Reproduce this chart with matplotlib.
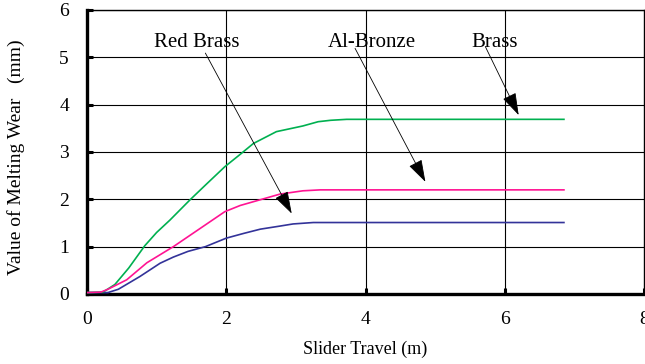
import matplotlib
matplotlib.use("Agg")
import matplotlib.pyplot as plt

plt.rcParams['font.family'] = ['Liberation Serif', 'DejaVu Serif']

# Wear curves (slider travel in m, melting wear in mm)
brass_x = [0, 0.23, 0.4, 0.6, 0.83, 1.0, 1.19, 1.48, 1.7, 1.98, 2.2, 2.39, 2.72, 3.1, 3.32, 3.5, 3.73, 6.85]
brass_y = [0.03, 0.04, 0.2, 0.55, 1.02, 1.3, 1.56, 1.99, 2.3, 2.69, 2.95, 3.18, 3.43, 3.55, 3.64, 3.67, 3.69, 3.69]

albronze_x = [0, 0.2, 0.3, 0.57, 0.86, 1.24, 1.6, 1.98, 2.2, 2.39, 2.77, 3.1, 3.35, 6.85]
albronze_y = [0.03, 0.04, 0.1, 0.3, 0.66, 1.0, 1.36, 1.74, 1.87, 1.95, 2.11, 2.18, 2.2, 2.2]

redbrass_x = [0, 0.3, 0.45, 0.76, 1.05, 1.24, 1.45, 1.7, 2.0, 2.25, 2.49, 2.75, 2.96, 3.25, 6.85]
redbrass_y = [0.03, 0.03, 0.1, 0.37, 0.65, 0.78, 0.9, 1.0, 1.18, 1.28, 1.37, 1.43, 1.48, 1.51, 1.51]

# Callout labels: text position and arrow tip
labels = ["Red Brass", "Al-Bronze", "Brass"]
label_x = [1.58, 4.09, 5.85]
label_y = [5.32, 5.32, 5.32]
start_x = [1.70, 3.85, 5.72]
start_y = [5.09, 5.19, 5.23]
tip_x = [2.94, 4.86, 6.20]
tip_y = [1.70, 2.37, 3.78]

xticks = [0, 2, 4, 6, 8]
yticks = [0, 1, 2, 3, 4, 5, 6]

fig = plt.figure(figsize=(6.45, 3.64), dpi=100)
ax = fig.add_axes([87 / 645, 70 / 364, 557 / 645, 284 / 364])

ax.set_xlim(0, 8)
ax.set_ylim(0, 6)
ax.set_xticks(xticks)
ax.set_yticks(yticks)

for v in yticks[1:]:
    ax.axhline(v, color='black', lw=0.8, zorder=1)
for v in xticks[1:-1]:
    ax.axvline(v, color='black', lw=0.8, zorder=1)

ax.plot(redbrass_x, redbrass_y, color='#333399', lw=1.2, zorder=3)
ax.plot(brass_x, brass_y, color='#00b050', lw=1.2, zorder=3)
ax.plot(albronze_x, albronze_y, color='#ff1493', lw=1.2, zorder=3)

for t, lx, ly, sx, sy, tx, ty in zip(labels, label_x, label_y, start_x, start_y, tip_x, tip_y):
    ax.text(lx, ly, t, ha='center', va='center', fontsize=15, zorder=5)
    ax.annotate('', xy=(tx, ty), xytext=(sx, sy),
                arrowprops=dict(arrowstyle='-|>,head_length=1.0,head_width=0.32',
                                color='black', lw=0.6, shrinkA=0, shrinkB=0,
                                mutation_scale=14), zorder=5)

for side in ['left', 'bottom']:
    ax.spines[side].set_linewidth(2.4)
for side in ['top', 'right']:
    ax.spines[side].set_linewidth(1.0)

ax.tick_params(direction='in', length=4, width=2.2, labelsize=14, pad=13)
ax.tick_params(axis='x', pad=12)

ax.set_xlabel('Slider Travel (m)', fontsize=13)
ax.set_ylabel('Value of Melting Wear   (mm)', fontsize=14)
ax.xaxis.set_label_coords(0.5, -0.165)
ax.yaxis.set_label_coords(-0.111, 0.48)

fig.savefig('out.png', dpi=100)
